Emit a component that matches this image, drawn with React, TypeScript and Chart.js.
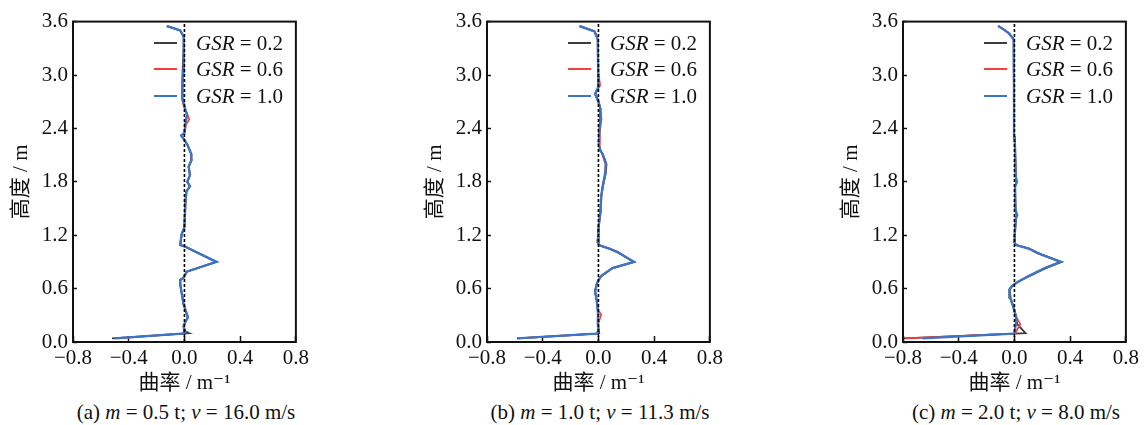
import React, { useEffect, useRef } from 'react';
import { Chart, registerables } from 'chart.js';

Chart.register(...registerables);

const FONT = '"Liberation Serif", "DejaVu Serif", serif';
const FONT_CJK = '"Liberation Serif", "DejaVu Serif", "Noto Sans CJK SC", serif';
const TEXT = '#111111';

const xTickValues = [-0.8, -0.4, 0.0, 0.4, 0.8];
const yTickValues = [0.0, 0.6, 1.2, 1.8, 2.4, 3.0, 3.6];
const gsrLabels = ['0.2', '0.6', '1.0'];
const gsrColors = ['#3d3d3d', '#ff3b3b', '#3a76c6'];
const gsrWidths = [1.8, 1.7, 2.3];

// Panel (a): m = 0.5 t, v = 16.0 m/s
const heightsA = [0.04, 0.095, 0.10, 0.11, 0.15, 0.18, 0.22, 0.28, 0.32, 0.43, 0.65, 0.70, 0.72, 0.79, 0.90, 1.075, 1.09, 1.21, 1.29, 1.56, 1.69, 1.75, 1.80, 1.875, 1.97, 2.04, 2.11, 2.22, 2.28, 2.32, 2.35, 2.44, 2.50, 2.55, 2.61, 2.68, 2.74, 2.88, 3.03, 3.29, 3.43, 3.50, 3.55];
const curvA02 = [-0.52, -0.01, 0.03, 0.01, 0.0, -0.006, 0.005, 0.026, 0.015, -0.008, -0.031, -0.03, -0.008, 0.015, 0.232, 0.0, -0.031, -0.021, 0.0, 0.006, 0.013, 0.04, 0.02, 0.039, 0.03, 0.05, 0.048, 0.02, -0.006, -0.024, 0.0, 0.006, 0.012, 0.02, 0.006, -0.006, -0.016, -0.016, -0.011, -0.006, -0.005, -0.03, -0.128];
const curvA06 = [-0.48, -0.02, -0.008, 0.003, -0.002, -0.006, 0.006, 0.024, 0.017, -0.006, -0.03, -0.029, -0.006, 0.018, 0.226, 0.002, -0.028, -0.02, 0.0, 0.008, 0.015, 0.038, 0.021, 0.04, 0.031, 0.048, 0.05, 0.021, -0.004, -0.022, 0.002, 0.01, 0.035, 0.022, 0.005, -0.01, -0.018, -0.017, -0.01, -0.005, -0.005, -0.03, -0.12];
const curvA10 = [-0.50, -0.02, -0.01, 0.002, -0.003, -0.007, 0.005, 0.025, 0.016, -0.007, -0.03, -0.03, -0.007, 0.016, 0.229, 0.0, -0.03, -0.02, 0.0, 0.007, 0.014, 0.04, 0.02, 0.04, 0.03, 0.05, 0.05, 0.02, -0.005, -0.023, 0.0, 0.007, 0.012, 0.02, 0.007, -0.005, -0.016, -0.016, -0.01, -0.005, -0.005, -0.03, -0.125];

// Panel (b): m = 1.0 t, v = 11.3 m/s
const heightsB = [0.04, 0.095, 0.10, 0.13, 0.21, 0.31, 0.35, 0.46, 0.57, 0.65, 0.70, 0.74, 0.83, 0.90, 1.01, 1.05, 1.087, 1.12, 1.31, 1.45, 1.64, 1.75, 1.89, 2.00, 2.11, 2.15, 2.22, 2.37, 2.50, 2.62, 2.70, 2.79, 2.85, 2.88, 3.03, 3.40, 3.49, 3.55];
const curvB02 = [-0.585, -0.015, 0.006, 0.002, -0.004, -0.002, -0.004, -0.012, -0.025, -0.013, 0.001, 0.018, 0.1, 0.258, 0.135, 0.076, 0.006, -0.006, 0.001, 0.013, 0.02, 0.032, 0.052, 0.058, 0.032, 0.014, 0.002, 0.006, 0.014, 0.013, -0.001, -0.025, -0.005, -0.004, -0.003, -0.005, -0.029, -0.137];
const curvB06 = [-0.575, -0.017, -0.008, 0.002, 0.0, 0.02, 0.0, -0.01, -0.022, -0.011, 0.004, 0.022, 0.104, 0.252, 0.14, 0.08, 0.01, -0.003, 0.004, 0.016, 0.022, 0.033, 0.05, 0.05, 0.028, 0.016, 0.005, 0.01, 0.022, 0.016, 0.002, -0.02, 0.0, 0.012, 0.0, -0.004, -0.026, -0.13];
const curvB10 = [-0.58, -0.017, -0.01, 0.0, -0.005, -0.003, -0.005, -0.012, -0.024, -0.012, 0.002, 0.019, 0.101, 0.255, 0.137, 0.078, 0.007, -0.005, 0.002, 0.014, 0.02, 0.03, 0.047, 0.054, 0.03, 0.014, 0.003, 0.007, 0.014, 0.014, 0.0, -0.024, -0.004, -0.003, -0.002, -0.005, -0.028, -0.135];

// Panel (c): m = 2.0 t, v = 8.0 m/s
const heightsC = [0.04, 0.095, 0.10, 0.20, 0.28, 0.39, 0.50, 0.59, 0.62, 0.65, 0.68, 0.74, 0.83, 0.90, 0.994, 1.05, 1.09, 1.12, 1.20, 1.40, 1.42, 1.47, 1.75, 1.80, 1.85, 2.30, 2.66, 3.40, 3.47, 3.51, 3.55];
const curvC02 = [-0.80, -0.005, 0.08, 0.02, 0.01, -0.008, -0.032, -0.037, -0.024, -0.002, 0.028, 0.105, 0.225, 0.338, 0.18, 0.106, 0.013, 0.0, 0.001, 0.01, 0.017, 0.01, 0.004, 0.015, 0.009, 0.002, -0.003, -0.006, -0.041, -0.078, -0.118];
const curvC06 = [-0.78, -0.005, 0.005, 0.042, 0.015, -0.005, -0.028, -0.033, -0.02, 0.002, 0.032, 0.098, 0.215, 0.328, 0.17, 0.1, 0.012, 0.001, 0.003, 0.012, 0.016, 0.01, 0.005, 0.014, 0.01, 0.004, -0.002, -0.005, -0.04, -0.075, -0.115];
const curvC10 = [-0.66, -0.005, 0.0, 0.01, 0.011, -0.007, -0.03, -0.035, -0.022, 0.0, 0.03, 0.101, 0.219, 0.333, 0.172, 0.101, 0.011, 0.0, 0.002, 0.011, 0.02, 0.011, 0.005, 0.019, 0.01, 0.002, -0.003, -0.005, -0.04, -0.076, -0.116];

const captionTags = ['(a)', '(b)', '(c)'];
const captionMass = ['0.5', '1.0', '2.0'];
const captionSpeed = ['16.0', '11.3', '8.0'];

const PLOT_W = 226;
const Y_AXIS_W = 73;
const CANVAS_W = Y_AXIS_W + PLOT_W + 20;
const CANVAS_H = 400;

const framePlugin = {
  id: 'frame',
  afterDraw(chart: any) {
    const { ctx, chartArea } = chart;
    const { left, top, right, bottom } = chartArea;
    ctx.save();
    ctx.strokeStyle = '#111';
    ctx.lineWidth = 2;
    ctx.strokeRect(left, top, right - left, bottom - top);
    ctx.restore();
  },
};

const fmtX = (v: number) => (v < 0 ? '\u2212' + Math.abs(v).toFixed(1) : Math.abs(v).toFixed(1));

function Panel(props: { plotLeft: number; heights: number[]; series: number[][]; idx: number }) {
  const ref = useRef<HTMLCanvasElement | null>(null);
  const { plotLeft, heights, series, idx } = props;

  useEffect(() => {
    if (!ref.current) return;
    const curveSets = [2, 1, 0].map((s) => ({
      label: 'GSR = ' + gsrLabels[s],
      data: heights.map((h, k) => ({ x: series[s][k], y: h })),
      showLine: true,
      borderColor: gsrColors[s],
      backgroundColor: gsrColors[s],
      borderWidth: gsrWidths[s],
      pointRadius: 0,
      tension: 0,
      fill: false,
    }));
    const zeroLine = {
      label: 'zero',
      data: [
        { x: 0, y: yTickValues[0] },
        { x: 0, y: yTickValues[yTickValues.length - 1] },
      ],
      showLine: true,
      borderColor: '#000',
      borderWidth: 1.6,
      borderDash: [3, 2],
      pointRadius: 0,
      fill: false,
    };
    const chart = new Chart(ref.current, {
      type: 'scatter',
      data: { datasets: [zeroLine, ...curveSets] as any },
      options: {
        animation: false,
        responsive: false,
        layout: { padding: { top: 15, right: 20, left: 0, bottom: 0 } },
        plugins: { legend: { display: false }, tooltip: { enabled: false } },
        scales: {
          x: {
            type: 'linear',
            min: -0.8,
            max: 0.8,
            afterBuildTicks: (s: any) => {
              s.ticks = xTickValues.map((v) => ({ value: v }));
            },
            afterFit: (s: any) => {
              s.height = CANVAS_H - 342;
            },
            grid: { drawOnChartArea: false, tickLength: -6, tickWidth: 1.5, tickColor: '#111' },
            border: { display: false },
            ticks: {
              padding: 10,
              autoSkip: false,
              maxRotation: 0,
              color: TEXT,
              font: { family: FONT, size: 21 },
              callback: (v: any) => fmtX(Number(v)),
            },
            title: {
              display: true,
              text: '曲率 / m\u207B\u00B9',
              color: TEXT,
              font: { family: FONT_CJK, size: 21 },
              padding: { top: 0, bottom: 4 },
            },
          },
          y: {
            type: 'linear',
            min: 0,
            max: 3.6,
            afterBuildTicks: (s: any) => {
              s.ticks = yTickValues.map((v) => ({ value: v }));
            },
            afterFit: (s: any) => {
              s.width = Y_AXIS_W;
            },
            grid: { drawOnChartArea: false, tickLength: -4, tickWidth: 1.5, tickColor: '#111' },
            border: { display: false },
            ticks: {
              padding: 9,
              autoSkip: false,
              color: TEXT,
              font: { family: FONT, size: 21 },
              callback: (v: any) => Number(v).toFixed(1),
            },
            title: {
              display: true,
              text: '高度 / m',
              color: TEXT,
              font: { family: FONT_CJK, size: 21 },
              padding: { top: 9, bottom: 0 },
            },
          },
        },
      } as any,
      plugins: [framePlugin],
    });
    let alive = true;
    const fonts: any = (document as any).fonts;
    if (fonts && fonts.load) {
      Promise.all([
        fonts.load('21px "Liberation Serif"'),
        fonts.load('italic 21px "Liberation Serif"'),
        fonts.load('21px "Noto Sans CJK SC"', '曲率高度'),
      ])
        .then(() => {
          if (alive) chart.update();
        })
        .catch(() => {});
    }
    return () => {
      alive = false;
      chart.destroy();
    };
  }, [heights, series]);

  const legendRows = [0, 1, 2];
  return (
    <>
      <div style={{ position: 'absolute', left: plotLeft - Y_AXIS_W, top: 0, width: CANVAS_W, height: CANVAS_H }}>
        <canvas ref={ref} width={CANVAS_W} height={CANVAS_H} style={{ width: CANVAS_W, height: CANVAS_H, display: 'block' }} />
        {legendRows.map((s) => (
          <div key={s}>
            <div
              style={{
                position: 'absolute',
                left: Y_AXIS_W + 81,
                top: Math.round(43 + s * 26.3) - 1,
                width: 23,
                height: 2,
                background: gsrColors[s],
              }}
            />
            <div
              style={{
                position: 'absolute',
                left: Y_AXIS_W + 123,
                top: 43 + s * 26.3 - 12,
                height: 24,
                lineHeight: '24px',
                fontFamily: FONT,
                fontSize: 21,
                color: TEXT,
                whiteSpace: 'nowrap',
              }}
            >
              <i>GSR</i> = {gsrLabels[s]}
            </div>
          </div>
        ))}
      </div>
      <div
        style={{
          position: 'absolute',
          left: plotLeft - 40,
          width: PLOT_W + 80,
          top: 400,
          height: 24,
          lineHeight: '24px',
          textAlign: 'center',
          fontFamily: FONT,
          fontSize: 21,
          color: TEXT,
          whiteSpace: 'nowrap',
        }}
      >
        {captionTags[idx]} <i>m</i> = {captionMass[idx]} t; <i>v</i> = {captionSpeed[idx]} m/s
      </div>
    </>
  );
}

const seriesA = [curvA02, curvA06, curvA10];
const seriesB = [curvB02, curvB06, curvB10];
const seriesC = [curvC02, curvC06, curvC10];

export default function App() {
  return (
    <div style={{ position: 'absolute', left: 0, top: 0, width: 1144, height: 425, background: '#fff', overflow: 'hidden' }}>
      <Panel plotLeft={73} heights={heightsA} series={seriesA} idx={0} />
      <Panel plotLeft={487} heights={heightsB} series={seriesB} idx={1} />
      <Panel plotLeft={903} heights={heightsC} series={seriesC} idx={2} />
    </div>
  );
}
